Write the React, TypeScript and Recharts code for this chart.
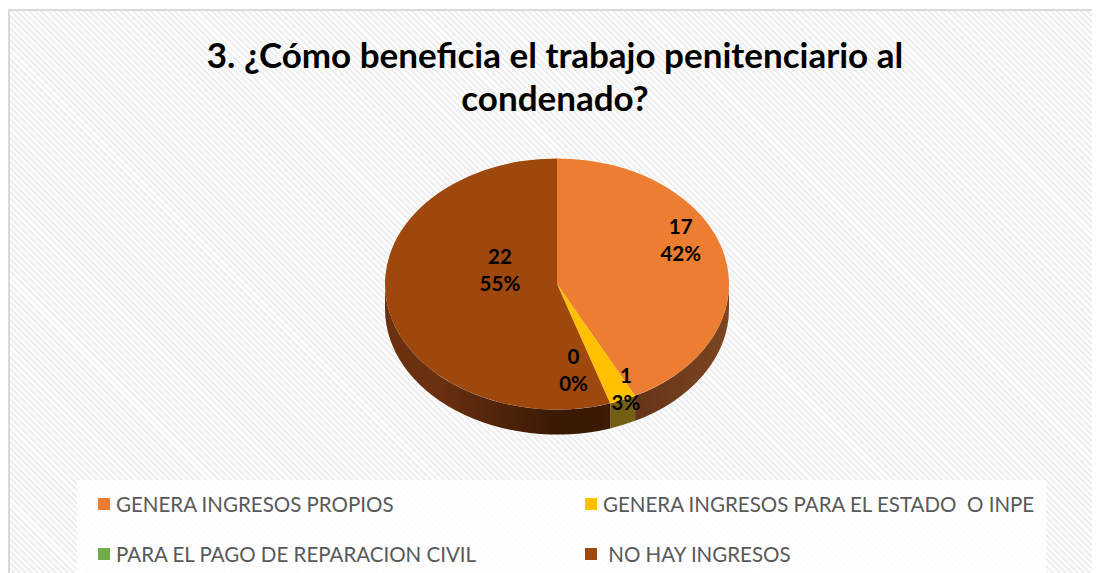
import React from 'react';
import { PieChart, Pie, Cell, Legend } from 'recharts';

const NAMES = [
  'GENERA INGRESOS PROPIOS',
  'GENERA INGRESOS PARA EL ESTADO  O INPE',
  'PARA EL PAGO DE REPARACION CIVIL',
  ' NO HAY INGRESOS',
];
const VALUES = [17, 1, 0, 22];
const COLORS = ['#ED7D31', '#FFC000', '#70AD47', '#9E480E'];
// [light, dark] wall shades
const SIDE_COLORS = [
  ['#7d4521', '#5a2f14'],
  ['#85701a', '#6f5c12'],
  ['#3f6a26', '#2f5019'],
  ['#6a3010', '#3a1905'],
];

// label placement inside each slice (fraction of radius, angle nudge in degrees)
const LABEL_R = [0.8, 0.93, 0.69, 0.35];
const LABEL_SHIFT = [12.5, 3, -10, -27.5];

const data = NAMES.map((name, i) => ({ name, value: VALUES[i] }));

const W = 1092;
const H = 565;
const TILT = 0.73;
const DEPTH = 25;
const RAD = Math.PI / 180;

const pt = (cx: number, cy: number, rx: number, ry: number, a: number, dy = 0) =>
  `${cx + rx * Math.cos(a * RAD)},${cy - ry * Math.sin(a * RAD) + dy}`;

const fmtPct = (p: number) => `${Math.round(parseFloat(p.toFixed(2)) * 100)}%`;

// draws the elliptical top face and the front wall of one slice
const SliceShape = (props: any) => {
  const { cx, cy, outerRadius, startAngle, endAngle, index } = props;
  if (Math.abs(startAngle - endAngle) < 0.001) return <g />;
  const rx = outerRadius;
  const ry = outerRadius * TILT;
  const hi = Math.max(startAngle, endAngle);
  const lo = Math.min(startAngle, endAngle);
  const large = hi - lo > 180 ? 1 : 0;
  const top = `M${cx},${cy} L${pt(cx, cy, rx, ry, hi)} A${rx},${ry} 0 ${large} 1 ${pt(cx, cy, rx, ry, lo)} Z`;

  // visible wall = part of [lo, hi] inside the lower half (-180..0 mod 360)
  const walls: string[] = [];
  for (let k = -2; k <= 1; k++) {
    const a1 = Math.min(hi, 360 * k);
    const a2 = Math.max(lo, 360 * k - 180);
    if (a1 - a2 > 0.01) {
      walls.push(
        `M${pt(cx, cy, rx, ry, a1)} A${rx},${ry} 0 0 1 ${pt(cx, cy, rx, ry, a2)} ` +
          `L${pt(cx, cy, rx, ry, a2, DEPTH)} A${rx},${ry} 0 0 0 ${pt(cx, cy, rx, ry, a1, DEPTH)} Z`
      );
    }
  }
  const gid = `side-${index}`;
  const [light, dark] = SIDE_COLORS[index];
  return (
    <g>
      <defs>
        <linearGradient id={gid} gradientUnits="userSpaceOnUse" x1={cx - rx} y1={0} x2={cx + rx} y2={0}>
          <stop offset="0%" stopColor={light} />
          <stop offset="15%" stopColor={light} />
          <stop offset="50%" stopColor={dark} />
          <stop offset="62%" stopColor={dark} />
          <stop offset="100%" stopColor={light} />
        </linearGradient>
      </defs>
      {walls.map((d, i) => (
        <path key={i} d={d} fill={`url(#${gid})`} />
      ))}
      <path d={top} fill={COLORS[index]} />
    </g>
  );
};

const SliceLabel = (props: any) => {
  const { cx, cy, outerRadius, midAngle, index, value, percent } = props;
  const a = (midAngle + LABEL_SHIFT[index]) * RAD;
  const r = outerRadius * LABEL_R[index];
  const x = cx + r * Math.cos(a);
  const y = cy - r * TILT * Math.sin(a);
  return (
    <text
      x={x}
      y={y}
      textAnchor="middle"
      fontFamily="Lato, 'Open Sans', sans-serif"
      fontWeight={700}
      fontSize={20.5}
      fill="#000"
    >
      <tspan x={x} dy={-6}>{value}</tspan>
      <tspan x={x} dy={27}>{fmtPct(percent)}</tspan>
    </text>
  );
};

const LegendBox = (props: any) => {
  const items = (props.payload || []).filter((it: any) => it.type !== 'none');
  return (
    <div
      style={{
        width: 969,
        height: 94,
        background: 'rgba(255,255,255,0.82)',
        position: 'relative',
        fontFamily: "Lato, 'Open Sans', sans-serif",
        fontSize: 20.5,
        color: '#595959',
      }}
    >
      {items.map((it: any, i: number) => {
        const idx = NAMES.indexOf(it.value);
        return (
          <div
            key={i}
            style={{
              position: 'absolute',
              left: idx % 2 === 0 ? 21 : 508,
              top: idx < 2 ? 12 : 62,
              display: 'flex',
              alignItems: 'center',
              whiteSpace: 'pre',
            }}
          >
            <span style={{ width: 12, height: 12, background: COLORS[idx], marginRight: 6, display: 'inline-block' }} />
            <span>{it.value}</span>
          </div>
        );
      })}
    </div>
  );
};

export default function App() {
  return (
    <div
      style={{
        position: 'relative',
        width: W,
        height: H,
        marginTop: 1,
        boxSizing: 'border-box',
        borderTop: '2px solid #d9d9d9',
        borderLeft: '2px solid #d9d9d9',
        background: 'repeating-linear-gradient(45deg, #fdfdfd 0px, #fdfdfd 2.2px, #efefef 2.2px, #efefef 4.3px)',
        overflow: 'hidden',
      }}
    >
      <div
        style={{
          position: 'absolute',
          left: 0,
          top: 22,
          width: 1090,
          textAlign: 'center',
          fontFamily: "Lato, 'Open Sans', sans-serif",
          fontWeight: 700,
          fontSize: 35,
          lineHeight: '43px',
          color: '#000',
        }}
      >
        3. ¿Cómo beneficia el trabajo penitenciario al
        <br />
        condenado?
      </div>
      <div style={{ position: 'absolute', left: -2, top: -2 }}>
        <PieChart width={W} height={H}>
          <Pie
            data={data}
            dataKey="value"
            nameKey="name"
            cx={544}
            cy={270}
            outerRadius={172}
            startAngle={90}
            endAngle={-270}
            stroke="none"
            label={SliceShape}
            labelLine={false}
            isAnimationActive={false}
          >
            {data.map((d, i) => (
              <Cell key={i} fill="transparent" />
            ))}
          </Pie>
          <Pie
            data={data}
            dataKey="value"
            nameKey="name"
            cx={544}
            cy={270}
            outerRadius={172}
            startAngle={90}
            endAngle={-270}
            stroke="none"
            fill="transparent"
            legendType="none"
            label={SliceLabel}
            labelLine={false}
            isAnimationActive={false}
          />
          <Legend
            content={<LegendBox />}
            wrapperStyle={{ position: 'absolute', left: 69, top: 471, width: 969 }}
          />
        </PieChart>
      </div>
    </div>
  );
}
